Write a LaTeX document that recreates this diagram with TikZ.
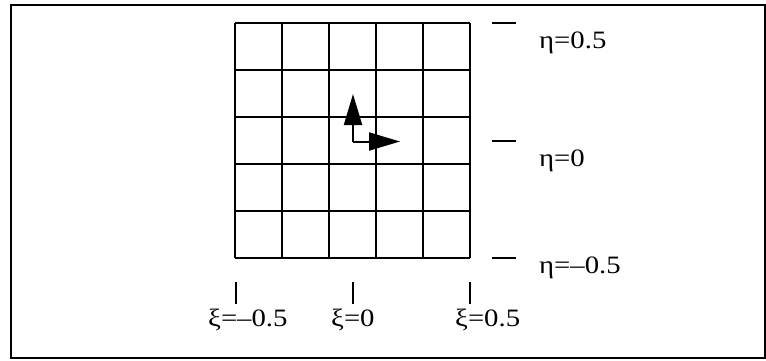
\documentclass[tikz,border=0pt]{standalone}
\usepackage{fontspec}
\setmainfont{Liberation Serif}
\newfontfamily\lblfont[FakeStretch=1.15]{Liberation Serif}
\usetikzlibrary{arrows.meta}
\begin{document}
\begin{tikzpicture}[x=1pt,y=-1pt,
  gridline/.style={line width=1.8pt},
  frameline/.style={line width=2pt},
  tickline/.style={line width=1.6pt},
  vec/.style={line width=2pt,-{Triangle[length=31pt,width=18pt]}},
  lbl/.style={font=\lblfont\fontsize{25}{28}\selectfont,inner sep=0pt,anchor=base west}]
\useasboundingbox (0,0) rectangle (766,360);
% frame
\draw[frameline] (11,5) rectangle (765,358);
% grid
\foreach \i in {0,...,5}{
  \draw[gridline] (235+47*\i,23) -- (235+47*\i,258);
  \draw[gridline] (235,23+47*\i) -- (470,23+47*\i);
}
% vectors
\coordinate (o) at (353,141.5);
\coordinate (up) at (353,94);
\coordinate (rt) at (400,141.5);
\draw[vec] (o) -- (up);
\draw[vec] (o) -- (rt);
% right ticks
\foreach \y/\n in {23/a,141/b,258/c}{
  \coordinate (t\n1) at (492,\y);
  \coordinate (t\n2) at (516,\y);
  \draw[tickline] (t\n1) -- (t\n2);
}
% bottom ticks
\foreach \x/\n in {236/a,353/b,470/c}{
  \coordinate (b\n1) at (\x,282);
  \coordinate (b\n2) at (\x,304);
  \draw[tickline] (b\n1) -- (b\n2);
}
% labels
\node[lbl] (eta1) at (539,48) {η=0.5};
\node[lbl] (eta2) at (539,166) {η=0};
\node[lbl] (eta3) at (539,273) {η=–0.5};
\node[lbl] (xi1) at (208,326) {ξ=–0.5};
\node[lbl] (xi2) at (331,326) {ξ=0};
\node[lbl] (xi3) at (455,326) {ξ=0.5};
\end{tikzpicture}
\end{document}
